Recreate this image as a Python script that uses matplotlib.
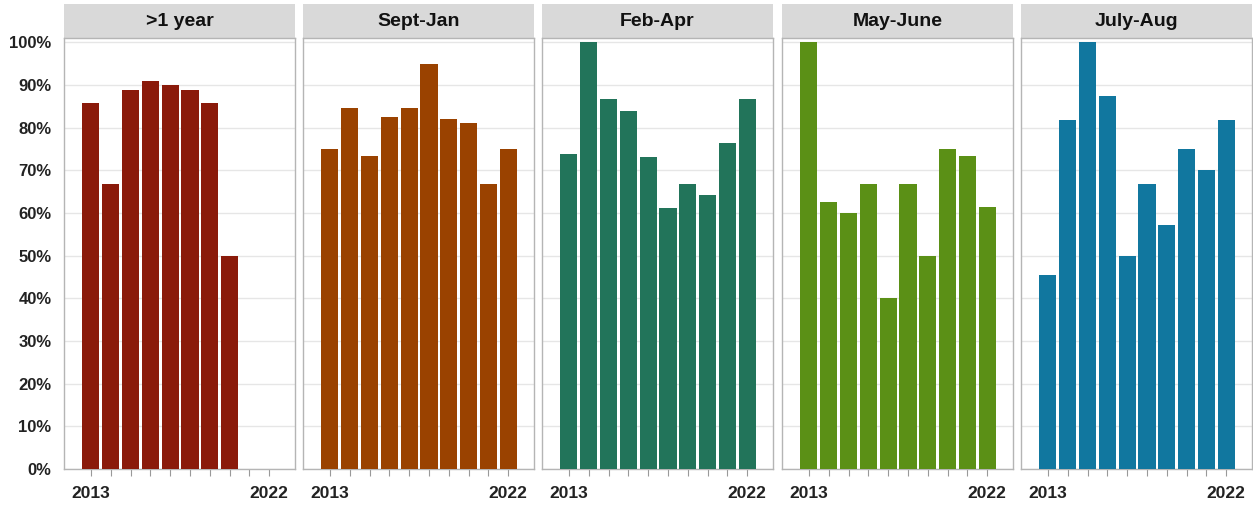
import numpy as np
import matplotlib
matplotlib.use("Agg")
import matplotlib.pyplot as plt
from matplotlib.patches import Rectangle
from matplotlib.ticker import FuncFormatter

plt.rcParams["font.family"] = ["Liberation Sans", "DejaVu Sans"]

years = list(range(2013, 2023))
panels = [">1 year", "Sept-Jan", "Feb-Apr", "May-June", "July-Aug"]

# share of cases (%), NaN = no data that year
over_1_year = [85.7, 66.7, 88.9, 90.9, 90.0, 88.9, 85.7, 50.0, np.nan, np.nan]
sept_jan = [75.0, 84.6, 73.3, 82.6, 84.6, 95.0, 82.0, 81.0, 66.7, 75.0]
feb_apr = [73.7, 100.0, 86.7, 84.0, 73.0, 61.1, 66.7, 64.3, 76.5, 86.7]
may_june = [100.0, 62.5, 60.0, 66.7, 40.0, 66.7, 50.0, 75.0, 73.3, 61.5]
july_aug = [45.5, 81.8, 100.0, 87.5, 50.0, 66.7, 57.1, 75.0, 70.0, 81.8]

series = [over_1_year, sept_jan, feb_apr, may_june, july_aug]
colors = ["#8a1a0a", "#9a4200", "#22745a", "#5b9016", "#11779f"]

W, H = 1253, 512
fig = plt.figure(figsize=(W / 100, H / 100), dpi=100)

lefts = [64, 303, 542, 782, 1021]
pw = 231
top_px, bot_px = 38, 469

for i, (name, vals, col) in enumerate(zip(panels, series, colors)):
    ax = fig.add_axes([lefts[i] / W, 1 - bot_px / H, pw / W, (bot_px - top_px) / H])
    v = np.array(vals, dtype=float)
    ok = ~np.isnan(v)
    ax.bar(np.array(years)[ok], v[ok], width=0.86, color=col, zorder=3)

    ax.set_xlim(2011.64, 2023.3)
    ax.set_ylim(0, 101)
    ax.set_yticks(np.arange(0, 101, 10))
    ax.yaxis.grid(True, color="#e6e6e6", linewidth=1, zorder=0)
    ax.set_xticks(years)
    ax.set_xticklabels([str(y) if y in (2013, 2022) else "" for y in years],
                       fontsize=12.5, fontweight="bold", color="#222222")
    ax.tick_params(axis="x", length=5, color="#999999", pad=7)
    if i == 0:
        ax.yaxis.set_major_formatter(FuncFormatter(lambda y, _: f"{y:.0f}%"))
        ax.tick_params(axis="y", length=0, pad=9, labelsize=12)
        for lbl in ax.get_yticklabels():
            lbl.set_fontweight("bold")
            lbl.set_color("#222222")
    else:
        ax.tick_params(axis="y", length=0, labelleft=False)
    for s in ax.spines.values():
        s.set_color("#b5b5b5")
        s.set_linewidth(1)

    # facet header strip
    ax.add_patch(Rectangle((0, 1.0), 1, 34 / (bot_px - top_px), transform=ax.transAxes,
                           facecolor="#d9d9d9", edgecolor="none", clip_on=False))
    ax.text(0.5, 1 + 17 / (bot_px - top_px), name, transform=ax.transAxes,
            ha="center", va="center", fontsize=14, fontweight="bold", color="#111111")

fig.savefig("out.png", dpi=100, facecolor="white")
